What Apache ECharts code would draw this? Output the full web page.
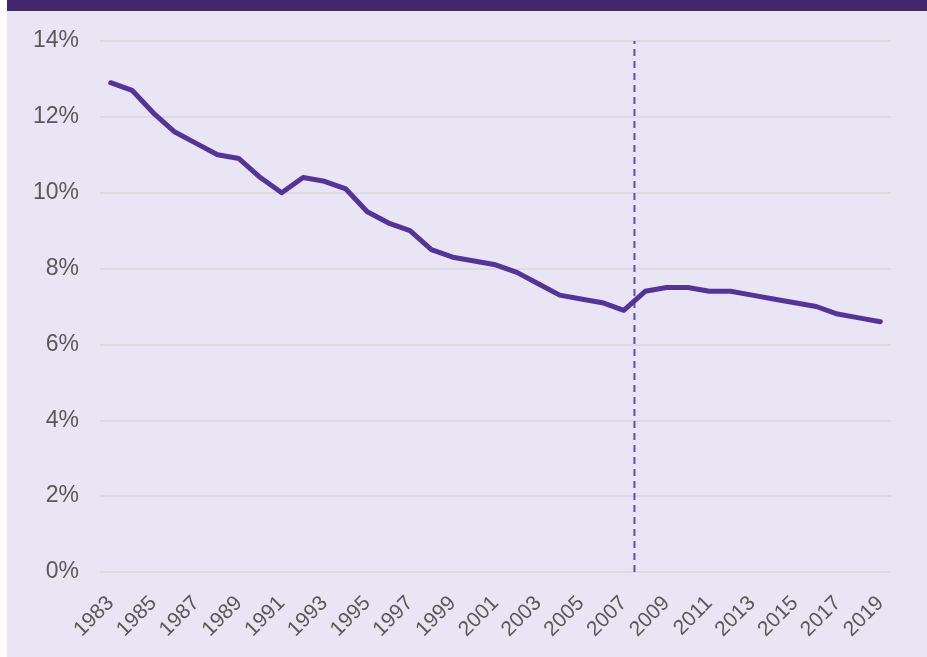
<!DOCTYPE html>
<html>
<head>
<meta charset="utf-8">
<style>
  html, body { margin: 0; padding: 0; background: #fff; }
  #chart { width: 927px; height: 657px; }
</style>
<script src="https://cdn.jsdelivr.net/npm/echarts@6/dist/echarts.min.js"></script>
</head>
<body>
<div id="chart"></div>
<script>
// years on the x axis
const years = ['1983', '1984', '1985', '1986', '1987', '1988', '1989', '1990', '1991', '1992',
  '1993', '1994', '1995', '1996', '1997', '1998', '1999', '2000', '2001', '2002',
  '2003', '2004', '2005', '2006', '2007', '2008', '2009', '2010', '2011', '2012',
  '2013', '2014', '2015', '2016', '2017', '2018', '2019']
// rate in percent
const rates = [12.9, 12.7, 12.1, 11.6, 11.3, 11.0, 10.9, 10.4, 10.0, 10.4,
  10.3, 10.1, 9.5, 9.2, 9.0, 8.5, 8.3, 8.2, 8.1, 7.9,
  7.6, 7.3, 7.2, 7.1, 6.9, 7.4, 7.5, 7.5, 7.4, 7.4,
  7.3, 7.2, 7.1, 7.0, 6.8, 6.7, 6.6]
// dashed marker between 2007 and 2008
const breakYear = 2007.5
const breakRange = [0, 14]

const chart = echarts.init(document.getElementById('chart'))

chart.setOption({
  animation: false,
  textStyle: { fontFamily: 'Liberation Sans, Arial, sans-serif' },
  graphic: [
    { type: 'rect', z: -10, shape: { x: 7, y: 0, width: 920, height: 657 }, style: { fill: '#e9e5f4' } },
    { type: 'rect', z: -9, shape: { x: 7, y: 0, width: 920, height: 11 }, style: { fill: '#41286e' } }
  ],
  grid: {
    left: 100,
    right: 36,
    top: 41,
    bottom: 85
  },
  xAxis: [
    {
      type: 'category',
      data: years,
      boundaryGap: true,
      axisLine: { show: false },
      axisTick: { show: false },
      axisLabel: {
        interval: 1,
        rotate: 45,
        margin: 28,
        fontSize: 21,
        color: '#595959'
      }
    },
    {
      type: 'value',
      min: 1982.5,
      max: 2019.5,
      show: false
    }
  ],
  yAxis: {
    type: 'value',
    min: 0,
    max: 14,
    interval: 2,
    axisLine: { show: false },
    axisTick: { show: false },
    axisLabel: {
      formatter: '{value}%',
      fontSize: 23,
      margin: 21,
      color: '#595959'
    },
    splitLine: {
      lineStyle: { color: '#d9d6de', width: 1.5 }
    }
  },
  series: [
    {
      type: 'line',
      xAxisIndex: 1,
      data: breakRange.map(v => [breakYear, v]),
      symbol: 'none',
      silent: true,
      lineStyle: {
        color: '#6a4bb2',
        width: 2,
        type: [7, 5]
      }
    },
    {
      type: 'line',
      data: rates,
      symbol: 'none',
      lineStyle: {
        color: '#563497',
        width: 5,
        cap: 'round',
        join: 'round'
      }
    }
  ]
})
</script>
</body>
</html>
